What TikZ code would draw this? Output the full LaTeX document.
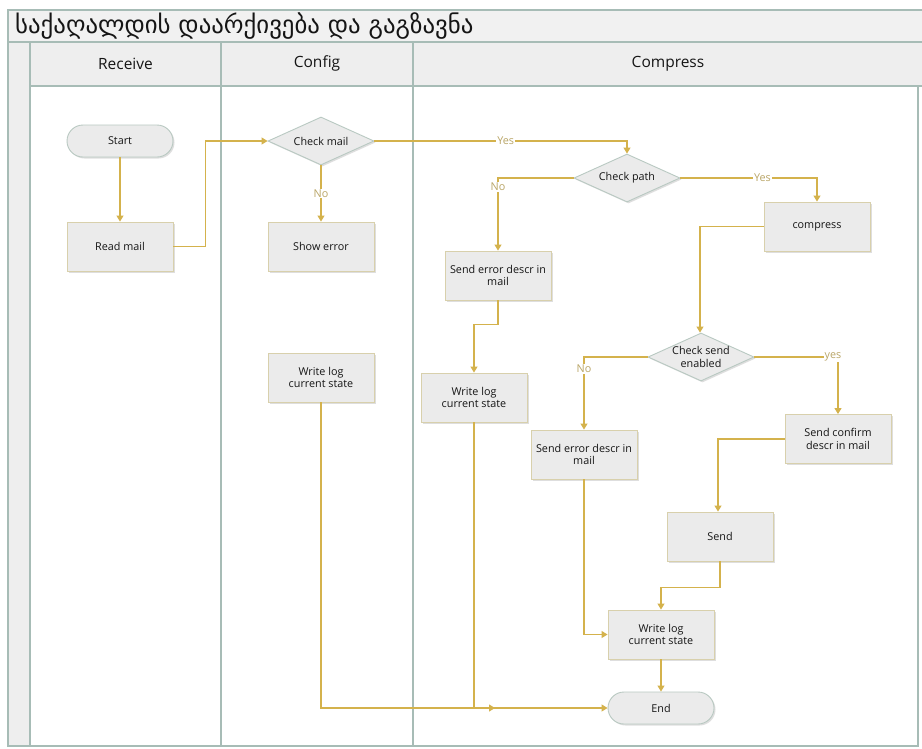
\documentclass[tikz,border=0pt]{standalone}
\usepackage{fontspec}
\setmainfont{Open Sans}
\newfontfamily\geofont{DejaVu Sans}
\usetikzlibrary{shapes.geometric,arrows.meta,shadows,calc}
\definecolor{conn}{HTML}{D4B24C}
\definecolor{laneline}{HTML}{A7BCB6}
\definecolor{hdr}{HTML}{EEEEEE}
\definecolor{titlefill}{HTML}{F1F1F1}
\definecolor{boxfill}{HTML}{EBEBEB}
\definecolor{boxline}{HTML}{D8D0AC}
\definecolor{shpline}{HTML}{B9C9C2}
\definecolor{lblcol}{HTML}{B9A566}
\definecolor{txtcol}{HTML}{151515}
\tikzset{
  shd/.style={drop shadow={shadow xshift=1.5pt,shadow yshift=-1.5pt,fill=black!25,opacity=0.5}},
  procbox/.style={rectangle,draw=boxline,fill=boxfill,line width=0.9pt,minimum width=106pt,minimum height=49pt,inner sep=0pt,align=center,font=\fontsize{10.8}{12.5}\selectfont,text=txtcol,shd},
  termbox/.style={rectangle,rounded corners=16pt,draw=shpline,fill=boxfill,line width=0.9pt,minimum width=106pt,minimum height=32pt,inner sep=0pt,align=center,font=\fontsize{10.8}{12.5}\selectfont,text=txtcol,shd},
  decbox/.style={diamond,aspect=2.2,draw=shpline,fill=boxfill,line width=0.9pt,minimum width=106pt,minimum height=48pt,inner sep=0pt,align=center,font=\fontsize{10.8}{12.5}\selectfont,text=txtcol,shd},
  conline/.style={draw=conn,line width=1.1pt},
  arr/.style={conline,-{Triangle[width=7pt,length=6pt]}},
  lbl/.style={fill=white,inner sep=1pt,text=lblcol,font=\fontsize{10.8}{12.5}\selectfont},
  lanestroke/.style={draw=laneline,line width=1.6pt},
  hdrtext/.style={font=\fontsize{15.5}{18}\selectfont,text=txtcol}
}
\begin{document}
\begin{tikzpicture}[x=1pt,y=-1pt]
\useasboundingbox (0,0) rectangle (922,748);
\fill[white] (0,0) rectangle (922,748);
% pool
\fill[titlefill] (8,10) rectangle (922,42);
\fill[hdr] (8,42) rectangle (922,86);
\fill[hdr] (8,86) rectangle (30,746);
\draw[lanestroke] (922,10) -- (8,10) -- (8,746) -- (918,746) -- (918,86);
\draw[lanestroke] (8,42) -- (922,42);
\draw[lanestroke] (30,86) -- (922,86);
\draw[lanestroke] (30,42) -- (30,746);
\draw[lanestroke] (221,42) -- (221,746);
\draw[lanestroke] (413,42) -- (413,746);
\node[anchor=west,font=\geofont\fontsize{24.8}{28}\selectfont,text=txtcol,inner sep=0pt] (title) at (15,26) {საქაღალდის დაარქივება და გაგზავნა};
\node[hdrtext] (hreceive) at (125.5,63.5) {Receive};
\node[hdrtext] (hconfig) at (317,63.5) {Config};
\node[hdrtext] (hcompress) at (668,63.5) {Compress};
% nodes
\node[termbox] (start) at (120,141) {Start};
\node[procbox] (readmail) at (120,246.5) {Read mail};
\node[decbox] (checkmail) at (321,141) {Check mail};
\node[procbox] (showerror) at (321,246.5) {Show error};
\node[procbox] (writelog1) at (321,377.5) {Write log\\current state};
\node[decbox] (checkpath) at (627,178) {Check path};
\node[procbox] (compress) at (817,226.5) {compress};
\node[procbox] (senderr1) at (498,275.5) {Send error descr in\\mail};
\node[procbox] (writelog2) at (474,397.5) {Write log\\current state};
\node[decbox] (checksend) at (701,357) {Check send\\enabled};
\node[procbox] (senderr2) at (584,454.5) {Send error descr in\\mail};
\node[procbox] (sendconfirm) at (838,439) {Send confirm\\descr in mail};
\node[procbox] (send) at (720,536.5) {Send};
\node[procbox] (writelog3) at (661,634.5) {Write log\\current state};
\node[termbox] (end) at (661,708) {End};
% connectors
\draw[arr] (start) -- (readmail);
\draw[arr] (readmail.east) -- ++(32,0) |- (checkmail.west);
\draw[arr] (checkmail) -- node[lbl] {No} (showerror);
\draw[arr] (checkmail.east) -| node[lbl,pos=0.26] {Yes} (checkpath.north);
\draw[arr] (checkpath.west) -| node[lbl,pos=0.56] {No} (senderr1.north);
\draw[arr] (checkpath.east) -| node[lbl,pos=0.3] {Yes} (compress.north);
\draw[arr] (compress.west) -| ($(checksend.north)+(-1,0)$);
\draw[arr] (senderr1.south) -- ++(0,24) -| (writelog2.north);
\draw[arr] (checksend.west) -| node[lbl,pos=0.58] {No} (senderr2.north);
\draw[arr] (checksend.east) -| node[lbl,pos=0.47] {yes} (sendconfirm.north);
\draw[arr] (sendconfirm.west) -| ($(send.north)+(-2,0)$);
\draw[arr] (send.south) -- ++(0,26) -| (writelog3.north);
\draw[arr] (senderr2.south) |- (writelog3.west);
\draw[arr] (writelog3) -- (end);
\draw[arr] (writelog2.south) |- (end.west);
\coordinate (join) at ($(writelog2.south |- end.west)+(21,0)$);
\draw[arr] (writelog1.south) |- (join);
\end{tikzpicture}
\end{document}
